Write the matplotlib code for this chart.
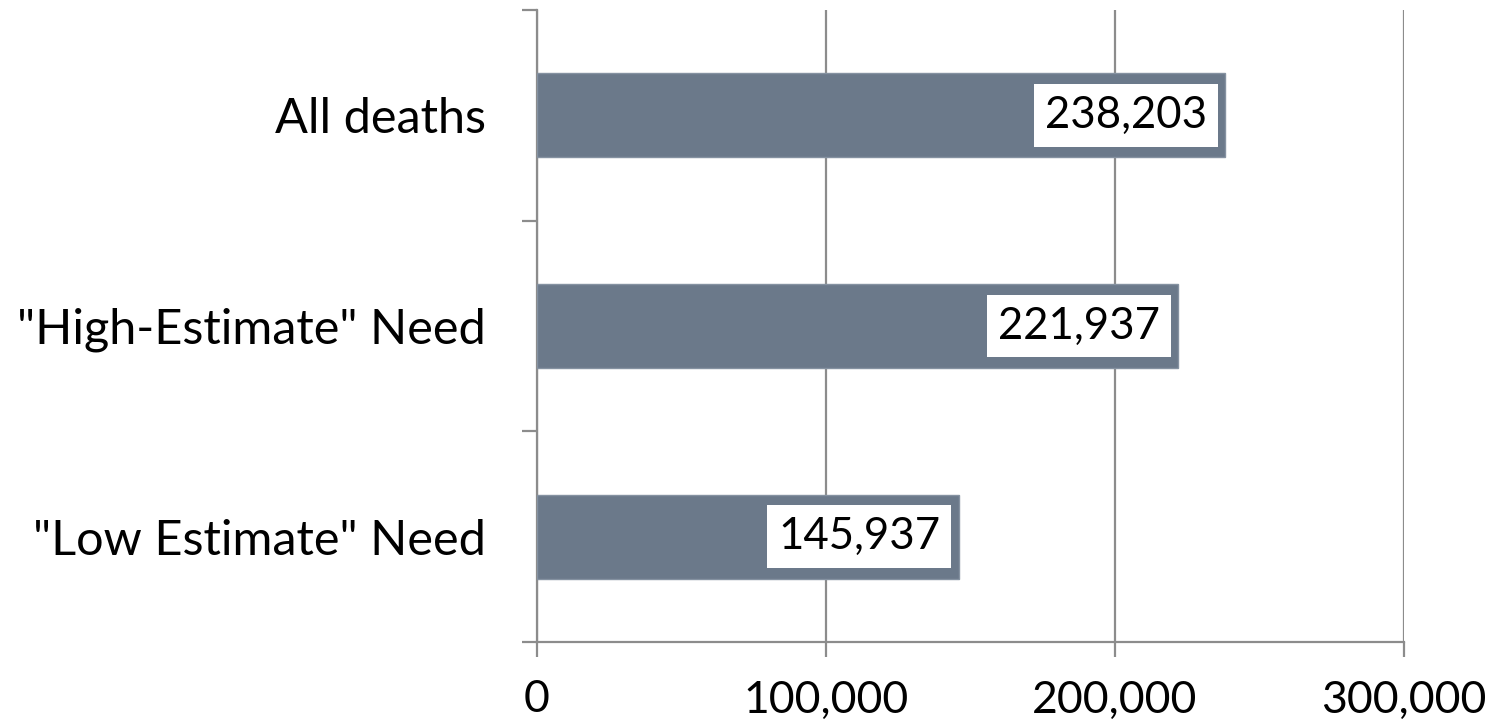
import matplotlib
matplotlib.use("Agg")
import matplotlib.pyplot as plt
from matplotlib.ticker import FuncFormatter, FixedLocator

categories = ["All deaths", "\"High-Estimate\" Need", "\"Low Estimate\" Need"]
values = [238203, 221937, 145937]
x_ticks = [0, 100000, 200000, 300000]

plt.rcParams['font.family'] = ['Lato', 'DejaVu Sans']

fig = plt.figure(figsize=(14.88, 7.27), dpi=100)
ax = fig.add_axes([537/1488, 1 - 642/727, (1404 - 537)/1488, (642 - 10)/727])

n = len(categories)
ypos = [n - 1 - i for i in range(n)]
bar_color = "#6B798A"
ax.barh(ypos, values, height=0.4, color=bar_color, edgecolor="#8592A1", linewidth=1, zorder=3)

for y, v in zip(ypos, values):
    ax.annotate(f"{v:,}", xy=(v, y), xytext=(-13.5, 0), textcoords="offset points",
                ha="right", va="center", fontsize=31.5, color="black", zorder=5,
                bbox=dict(boxstyle="square,pad=0.25", fc="white", ec="none"))

ax.set_xlim(0, 300000)
ax.set_ylim(-0.5, n - 0.5)
ax.xaxis.set_major_locator(FixedLocator(x_ticks))
ax.xaxis.set_major_formatter(FuncFormatter(lambda x, p: f"{int(x):,}"))
ax.grid(axis="x", color="#8C8C8C", linewidth=1.6, zorder=0)
ax.set_axisbelow(True)

# category labels at centers, ticks at boundaries
ax.set_yticks([y for y in ypos])
ax.set_yticklabels(categories)
ax.set_yticks([i - 0.5 for i in range(n + 1)], minor=True)
ax.tick_params(axis="y", which="major", length=0, pad=37, labelsize=35, labelcolor="black")
ax.tick_params(axis="y", which="minor", length=11, width=1.6, color="#8C8C8C", direction="out")
ax.tick_params(axis="x", which="major", length=11, width=1.6, color="#8C8C8C", direction="out",
               pad=16, labelsize=32, labelcolor="black")

for s in ["top", "right"]:
    ax.spines[s].set_visible(False)
for s in ["left", "bottom"]:
    ax.spines[s].set_color("#8C8C8C")
    ax.spines[s].set_linewidth(1.6)

fig.savefig("out.png", dpi=100)
